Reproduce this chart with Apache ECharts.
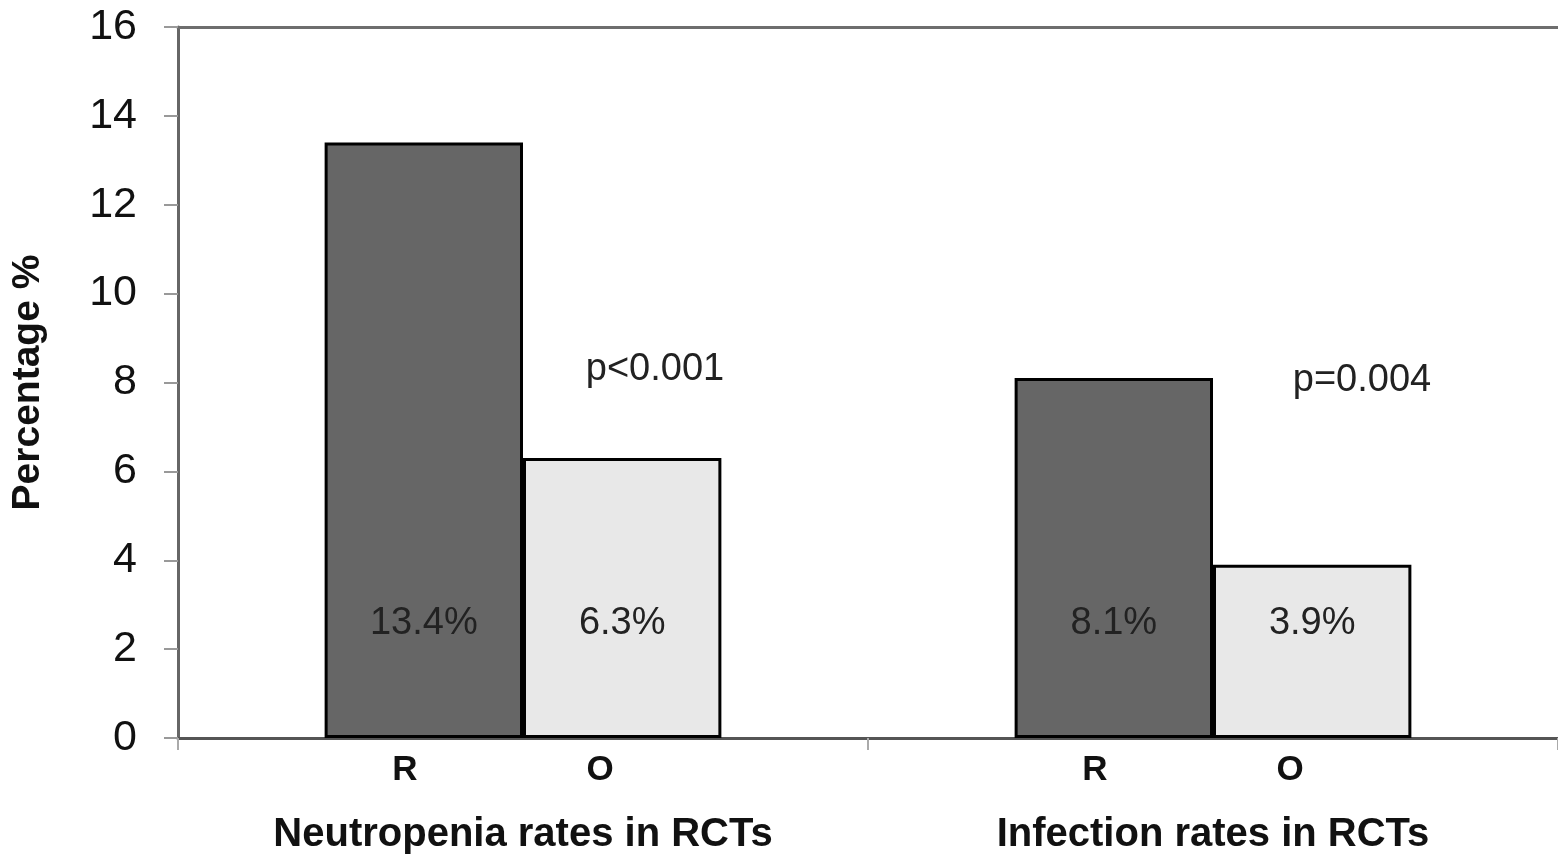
<!DOCTYPE html>
<html>
<head>
<meta charset="utf-8">
<script src="https://cdn.jsdelivr.net/npm/echarts@6/dist/echarts.min.js"></script>
<style>
html,body{margin:0;padding:0;background:#fff;}
#chart{width:1558px;height:858px;}
</style>
</head>
<body>
<div id="chart"></div>
<script>
const categories = ['Neutropenia rates in RCTs', 'Infection rates in RCTs'];
const groupNames = ['R', 'O'];
const valuesR = [13.4, 8.1];
const valuesO = [6.3, 3.9];
const pLabels = ['p<0.001', 'p=0.004'];
const pLabelY = [8.3, 8.05];
const yTicks = [0, 2, 4, 6, 8, 10, 12, 14, 16];

const FONT = 'Liberation Sans, Arial, sans-serif';
const chart = echarts.init(document.getElementById('chart'), null, {renderer: 'canvas'});

const barLabel = {
  show: true,
  position: 'insideBottom',
  distance: 95,
  formatter: p => p.value + '%',
  fontSize: 38,
  fontFamily: FONT,
  color: '#222'
};

const option = {
  animation: false,
  backgroundColor: '#fff',
  grid: {left: 178, right: 0, top: 27, bottom: 120, containLabel: false},
  xAxis: [{
    type: 'category',
    data: categories,
    position: 'bottom',
    axisLine: {show: true, lineStyle: {color: '#555', width: 3}},
    axisTick: {show: true, length: 12, interval: 0, lineStyle: {color: '#aaa', width: 2}},
    axisLabel: {
      interval: 0,
      margin: 2,
      fontFamily: FONT,
      formatter: v => '{sub|' + groupNames[0] + '}{sp|}{sub|' + groupNames[1] + '}{tail|}\n{cat|' + v + '}',
      rich: {
        sub: {width: 40, fontSize: 35, fontWeight: 'bold', fontFamily: FONT, color: '#111', lineHeight: 60},
        sp: {width: 155, lineHeight: 60},
        tail: {width: 41, lineHeight: 60},
        cat: {fontSize: 40, fontWeight: 'bold', fontFamily: FONT, color: '#111', lineHeight: 70}
      }
    }
  }, {
    type: 'category',
    data: categories,
    position: 'top',
    axisLine: {show: true, lineStyle: {color: '#6e6e6e', width: 3}},
    axisTick: {show: false},
    axisLabel: {show: false}
  }],
  yAxis: {
    type: 'value',
    min: yTicks[0],
    max: yTicks[yTicks.length - 1],
    interval: 2,
    name: 'Percentage %',
    nameLocation: 'middle',
    nameRotate: 90,
    nameGap: 130,
    nameTextStyle: {fontSize: 39, fontWeight: 'bold', fontFamily: FONT, color: '#111'},
    axisLine: {show: true, lineStyle: {color: '#666', width: 3}},
    axisTick: {show: true, length: 14, lineStyle: {color: '#999', width: 2}},
    axisLabel: {margin: 41, fontSize: 43, fontFamily: FONT, color: '#111'},
    splitLine: {show: false}
  },
  series: [{
    name: groupNames[0],
    type: 'bar',
    data: valuesR,
    barGap: '0%',
    barCategoryGap: '42.5%',
    itemStyle: {color: '#666666', borderColor: '#000', borderWidth: 3},
    label: barLabel
  }, {
    name: groupNames[1],
    type: 'bar',
    data: valuesO,
    barGap: '0%',
    barCategoryGap: '42.5%',
    itemStyle: {color: '#e8e8e8', borderColor: '#000', borderWidth: 3},
    label: barLabel
  }, {
    type: 'scatter',
    symbolSize: 0,
    silent: true,
    itemStyle: {opacity: 1},
    data: categories.map((c, i) => ({
      value: [c, pLabelY[i]],
      label: {offset: [i === 0 ? 132 : 149, 0]}
    })),
    label: {
      show: true,
      position: 'inside',
      formatter: p => pLabels[p.dataIndex],
      fontSize: 38,
      fontFamily: FONT,
      color: '#222'
    }
  }]
};
chart.setOption(option);
</script>
</body>
</html>
